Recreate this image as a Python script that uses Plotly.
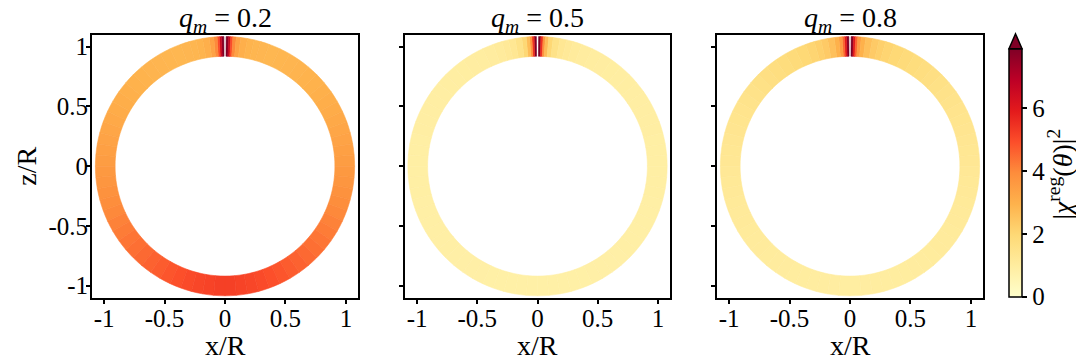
import plotly.graph_objects as go
from plotly.colors import sample_colorscale

# ---------------- data ----------------
# angular bin edges (degrees measured from +z axis); ring is mirror-symmetric
theta_edges_deg = [0.5, 1.5, 2.5, 3.5, 5, 7, 10, 13, 16, 20,
                   25, 30, 35, 40, 45, 50, 55, 60, 65, 70, 75, 80, 85, 90,
                   95, 100, 105, 110, 115, 120, 125, 130, 135, 140, 145, 150,
                   155, 160, 165, 170, 175, 180]
chi2_q02 = [8.5, 6.6, 5.0, 4.0, 3.4, 3.05, 2.92, 2.87, 2.85, 2.84,
            2.86, 2.88, 2.9, 2.93, 2.97, 3.01, 3.06, 3.12, 3.19, 3.27,
            3.35, 3.44, 3.53, 3.62, 3.72, 3.82, 3.92, 4.02, 4.12, 4.22,
            4.32, 4.42, 4.52, 4.62, 4.72, 4.82, 4.92, 5.01, 5.09, 5.15, 5.2]
chi2_q05 = [8.5, 5.5, 3.8, 2.7, 2.0, 1.55, 1.3, 1.17, 1.08, 1.02,
            0.99, 0.97, 0.96, 0.95, 0.94, 0.93, 0.92, 0.92, 0.91, 0.91,
            0.9, 0.9, 0.9, 0.89, 0.89, 0.89, 0.88, 0.88, 0.88, 0.87,
            0.87, 0.87, 0.86, 0.86, 0.86, 0.86, 0.85, 0.85, 0.85, 0.85, 0.85]
chi2_q08 = [8.5, 6.0, 4.6, 3.6, 3.0, 2.6, 2.35, 2.2, 2.08, 1.97,
            1.88, 1.8, 1.73, 1.66, 1.6, 1.54, 1.49, 1.44, 1.4, 1.36,
            1.32, 1.29, 1.26, 1.23, 1.2, 1.18, 1.16, 1.14, 1.12, 1.1,
            1.08, 1.07, 1.05, 1.04, 1.02, 1.01, 1.0, 0.99, 0.98, 0.97, 0.96]
q_m_values = ["0.2", "0.5", "0.8"]
ring_inner = 0.92
ring_outer = 1.085
cmin, cmax = 0.0, 7.9
tick_vals = [-1, -0.5, 0, 0.5, 1]
tick_text = ["-1", "-0.5", "0", "0.5", "1"]
cbar_tick_vals = [0, 2, 4, 6]
cbar_tick_text = ["0", "2", "4", "6"]

ylorrd = ["#ffffcc", "#ffeda0", "#fed976", "#feb24c", "#fd8d3c",
          "#fc4e2a", "#e31a1c", "#bd0026", "#800026"]
colorscale = [[i / 8, c] for i, c in enumerate(ylorrd)]

# ---------------- layout geometry (pixels in the page) ----------------
W, H = 1084, 364
OFF = 8  # page body margin
panels_px = [(92, 358), (405, 670), (717, 983)]
top_px, bot_px = 34, 299
FONT = "Liberation Serif"


def px_x(p):
    return (p - OFF) / W


def px_y(p):
    return 1 - (p - OFF) / H


fig = go.Figure()

series = [chi2_q02, chi2_q05, chi2_q08]
for k, vals in enumerate(series):
    centers, widths, colors = [], [], []
    for i, v in enumerate(vals):
        a0, a1 = theta_edges_deg[i], theta_edges_deg[i + 1]
        c = 0.5 * (a0 + a1)
        w = a1 - a0
        centers += [c, -c]
        widths += [w, w]
        colors += [v, v]
    frac = [min(max((v - cmin) / (cmax - cmin), 0), 1) for v in colors]
    line_cols = sample_colorscale(colorscale, frac)
    pid = "polar" if k == 0 else f"polar{k + 1}"
    fig.add_trace(go.Barpolar(
        theta=centers, width=widths, r=[ring_outer - ring_inner] * len(centers),
        base=ring_inner, subplot=pid,
        marker=dict(color=colors, coloraxis="coloraxis",
                    line=dict(color=line_cols, width=0.6)),
        hoverinfo="skip", showlegend=False))
    xa = "x" if k == 0 else f"x{k + 1}"
    ya = "y" if k == 0 else f"y{k + 1}"
    fig.add_trace(go.Scatter(x=[None], y=[None], xaxis=xa, yaxis=ya,
                             showlegend=False, hoverinfo="skip"))

layout = dict(
    width=W, height=H, margin=dict(l=0, r=0, t=0, b=0),
    paper_bgcolor="white", plot_bgcolor="white",
    font=dict(family=FONT, size=25, color="black"),
    showlegend=False,
    coloraxis=dict(
        colorscale=colorscale, cmin=cmin, cmax=cmax,
        colorbar=dict(
            x=px_x(1009), xanchor="left", y=px_y(298), yanchor="bottom",
            len=(298 - 48) / H, lenmode="fraction",
            thickness=13, thicknessmode="pixels",
            outlinewidth=1.5, outlinecolor="black",
            xpad=0, ypad=0,
            tickvals=cbar_tick_vals, ticktext=cbar_tick_text,
            ticks="outside", ticklen=5, tickwidth=1.5, tickcolor="black",
            tickfont=dict(family=FONT, size=25, color="black"),
        ),
    ),
)

annotations = []
shapes = []
for k, (x0, x1) in enumerate(panels_px):
    sfx = "" if k == 0 else str(k + 1)
    dom_x = [px_x(x0), px_x(x1)]
    dom_y = [px_y(bot_px), px_y(top_px)]
    layout["polar" + sfx] = dict(
        domain=dict(x=dom_x, y=dom_y),
        bgcolor="rgba(0,0,0,0)",
        radialaxis=dict(visible=False, range=[0, 1.1]),
        angularaxis=dict(visible=False, rotation=90, direction="clockwise"),
    )
    axcommon = dict(range=[-1.1, 1.1], showgrid=False, zeroline=False,
                    showline=True, mirror=True, linecolor="black", linewidth=2,
                    ticks="outside", ticklen=4, tickwidth=1.5, tickcolor="black",
                    tickvals=tick_vals, ticktext=tick_text,
                    ticklabelstandoff=-7,
                    tickfont=dict(family=FONT, size=25, color="black"),
                    fixedrange=True)
    layout["xaxis" + sfx] = dict(axcommon, domain=dom_x, anchor="y" + sfx)
    layout["yaxis" + sfx] = dict(axcommon, domain=dom_y, anchor="x" + sfx,
                                 showticklabels=(k == 0))
    xc = 0.5 * (x0 + x1)
    annotations.append(dict(
        text=f"<i>q</i><sub><i>m</i></sub> = {q_m_values[k]}",
        x=px_x(xc), y=px_y(38), xref="paper", yref="paper",
        xanchor="center", yanchor="bottom",
        showarrow=False, font=dict(family=FONT, size=28, color="black")))
    annotations.append(dict(
        text="x/R", x=px_x(xc), y=px_y(347), xref="paper", yref="paper",
        xanchor="center", yanchor="middle",
        showarrow=False, font=dict(family=FONT, size=28, color="black")))

annotations.append(dict(
    text="z/R", x=px_x(27), y=px_y(167), xref="paper", yref="paper",
    xanchor="center", yanchor="middle",
    textangle=-90, showarrow=False, font=dict(family=FONT, size=28, color="black")))
annotations.append(dict(
    text="|<i>χ</i><sup>reg</sup>(<i>θ</i>)|<sup>2</sup>",
    x=px_x(1061), y=px_y(175), xref="paper", yref="paper",
    xanchor="center", yanchor="middle",
    textangle=-90, showarrow=False, font=dict(family=FONT, size=28, color="black")))

# extend arrow on top of colorbar
ax0, ax1, ay_base, ay_tip = px_x(1009), px_x(1022), px_y(48), px_y(33)
shapes.append(dict(
    type="path", xref="paper", yref="paper",
    path=f"M {ax0} {ay_base} L {ax1} {ay_base} L {(ax0 + ax1) / 2} {ay_tip} Z",
    fillcolor="#800026", line=dict(color="black", width=1.5)))

layout["annotations"] = annotations
layout["shapes"] = shapes
fig.update_layout(**layout)

fig.write_html("out.html")
